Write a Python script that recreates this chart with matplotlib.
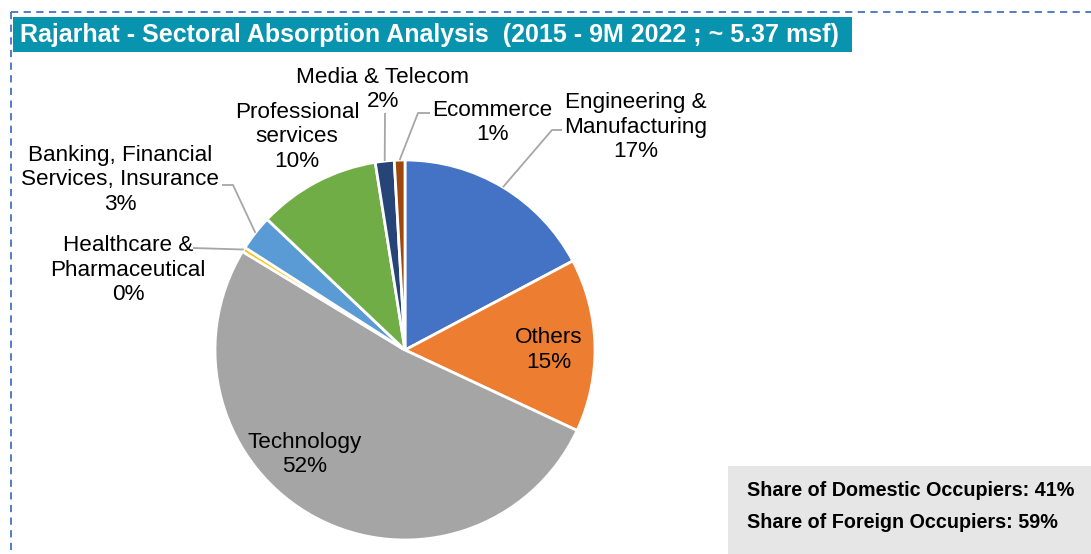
import numpy as np
import matplotlib
matplotlib.use('Agg')
import matplotlib.pyplot as plt
from matplotlib.patches import Rectangle

plt.rcParams['font.family'] = ['Liberation Sans', 'DejaVu Sans']

# data
sectors = ['Engineering &\nManufacturing', 'Others', 'Technology', 'Healthcare &\nPharmaceutical',
           'Banking, Financial\nServices, Insurance', 'Professional\nservices', 'Media & Telecom', 'Ecommerce']
shares = [17.2, 14.7, 51.6, 0.4, 3.0, 10.4, 1.6, 0.9]
colors = ['#4472C4', '#ED7D31', '#A5A5A5', '#FFC000', '#5B9BD5', '#70AD47', '#264478', '#9E480E']
title = 'Rajarhat - Sectoral Absorption Analysis  (2015 - 9M 2022 ; ~ 5.37 msf)'
occupiers = ['Share of Domestic Occupiers: 41%', 'Share of Foreign Occupiers: 59%']

W, H = 1091, 554
fig = plt.figure(figsize=(W / 100, H / 100), dpi=100)
ax = fig.add_axes([0, 0, 1, 1])

def px(x, y):
    # pixel position (from top-left) -> data coords
    return x, H - y

cx, cy = px(405, 350)
R = 190
wedges, _ = ax.pie(shares, colors=colors, startangle=90, counterclock=False,
                   center=(cx, cy), radius=R,
                   wedgeprops=dict(edgecolor='white', linewidth=2))
ax.set_xlim(0, W)
ax.set_ylim(0, H)
ax.axis('off')

labels = [f'{s}\n{round(v):.0f}%' for s, v in zip(sectors, shares)]

# label positions (pixel), elbow of leader (pixel) or None for inside labels
label_pos = [(636, 127), (549, 350), (305, 454.5), (128, 270),
             (120, 180), (297, 137), (383, 89.5), (492, 122.5)]
elbows = [(552, 130), None, None, (193, 248),
          (233, 185), None, (385, 113), (418, 113)]
tstarts = [(562, 130), None, None, None, (222, 185), None, None, (430, 113)]

for i, w in enumerate(wedges):
    x, y = px(*label_pos[i])
    ax.text(x, y, labels[i], ha='center', va='center', fontsize=16.2,
            linespacing=1.2, color='black')
    if elbows[i] is not None:
        mid = np.deg2rad((w.theta1 + w.theta2) / 2)
        ex, ey = cx + R * np.cos(mid), cy + R * np.sin(mid)
        bx, by = px(*elbows[i])
        xs, ys = [ex, bx], [ey, by]
        if tstarts[i] is not None:
            sx, sy = px(*tstarts[i])
            xs.append(sx)
            ys.append(sy)
        ax.plot(xs, ys, color='#A6A6A6', lw=1.3, solid_capstyle='butt')

# dashed frame
ax.plot([11, W], [H - 12, H - 12], color='#4472C4', lw=1.3, ls=(0, (4, 3)))
ax.plot([11, 11], [H - 12, 0], color='#4472C4', lw=1.3, ls=(0, (4, 3)))

# title banner
ax.add_patch(Rectangle(px(13, 52), 839, 35, facecolor='#0893AF', edgecolor='none'))
ax.text(*px(20, 35), title, ha='left', va='center', fontsize=18,
        fontweight='bold', color='white')

# occupier box
ax.add_patch(Rectangle(px(728, H), W - 728, H - 466, facecolor='#E7E6E6', edgecolor='none'))
for k, t in enumerate(occupiers):
    ax.text(*px(747, 491 + 32 * k), t, ha='left', va='center', fontsize=14.2,
            fontweight='bold', color='black')

fig.savefig('out.png', dpi=100)
